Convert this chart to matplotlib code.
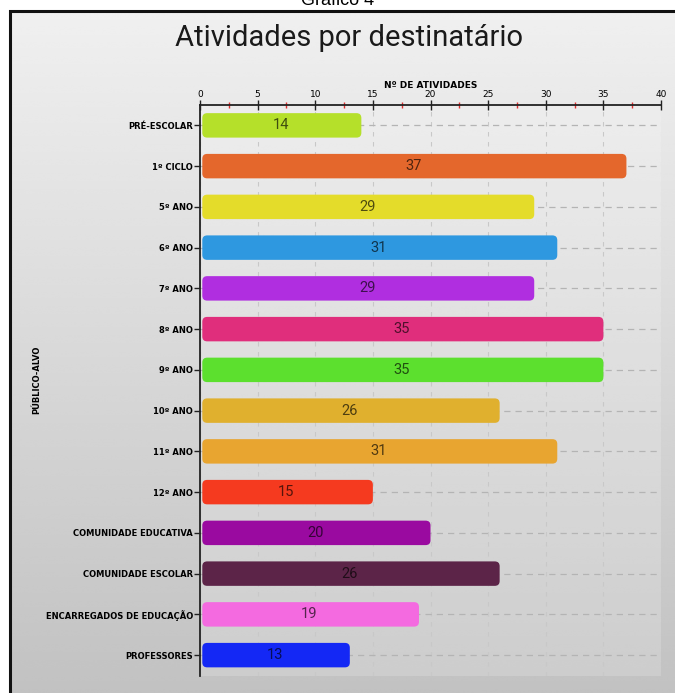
import numpy as np
import matplotlib
matplotlib.use("Agg")
import matplotlib.pyplot as plt
from matplotlib.patches import FancyBboxPatch, Rectangle
from matplotlib.colors import to_rgb

# Activities per target audience
categories = [
    "PRÉ-ESCOLAR", "1º CICLO", "5º ANO", "6º ANO", "7º ANO", "8º ANO",
    "9º ANO", "10º ANO", "11º ANO", "12º ANO", "COMUNIDADE EDUCATIVA",
    "COMUNIDADE ESCOLAR", "ENCARREGADOS DE EDUCAÇÃO", "PROFESSORES",
]
values = [14, 37, 29, 31, 29, 35, 35, 26, 31, 15, 20, 26, 19, 13]
colors = [
    "#b5e02a", "#e4672c", "#e4dc2a", "#2e98e0", "#b02ee0", "#e02e7c",
    "#5ce02e", "#e0b02e", "#e8a530", "#f53a1f", "#9a0aa0",
    "#5c2448", "#f46ae0", "#1428f5",
]
x_ticks = [0, 5, 10, 15, 20, 25, 30, 35, 40]

W, H = 675, 693
fig = plt.figure(figsize=(W / 100, H / 100), dpi=100)
fig.patch.set_facecolor("white")

# gradient panel behind the chart
bg = fig.add_axes([10 / W, 0, 1 - 10 / W, 1 - 12 / H], zorder=-2)
grad = np.linspace(0.94, 0.76, 256).reshape(-1, 1)
grad = np.repeat(grad, 2, axis=1)
bg.imshow(grad, aspect="auto", cmap="gray", vmin=0, vmax=1,
          extent=[0, 1, 0, 1], interpolation="bicubic")
bg.set_xlim(0, 1)
bg.set_ylim(0, 1)
bg.axis("off")
fig.patches.append(Rectangle((10 / W, -0.05), 1.2, 1.05 - 11 / H,
                             transform=fig.transFigure, fill=False,
                             edgecolor="#111111", linewidth=2.2, zorder=5))

fig.text(0.5, 1 - 5 / H, "Gráfico 4", ha="center", va="baseline",
         fontsize=13, family=["Liberation Sans", "DejaVu Sans"], color="black")
fig.text(0.517, 1 - 38 / H, "Atividades por destinatário", ha="center",
         va="center", fontsize=21,
         family=["Roboto", "DejaVu Sans"], color="#1a1a1a")

left, right = 200 / W, 661 / W
top, bottom = 1 - 105 / H, 1 - 675.5 / H
ax = fig.add_axes([left, bottom, right - left, top - bottom])
ax.set_facecolor((1, 1, 1, 0.18))

y = np.arange(len(categories))
bars = ax.barh(y, values, height=0.6, color=colors)

ax.set_xlim(0, 40)
ax.set_ylim(len(categories) - 0.5, -0.5)

# rounded bar shapes
px_x = (right - left) * W / 40
px_y = (top - bottom) * H / len(categories)
aspect = px_x / px_y
for b, c, v in zip(bars, colors, values):
    b.set_visible(False)
    x0, y0 = b.get_x(), b.get_y()
    w, h = b.get_width(), b.get_height()
    r = 0.42
    p = FancyBboxPatch((x0 + 0.2 + r, y0 + r * aspect),
                       w - 0.2 - 2 * r, h - 2 * r * aspect,
                       boxstyle=f"round,pad={r},rounding_size={r}",
                       mutation_aspect=aspect,
                       facecolor=c, edgecolor="none", zorder=3)
    ax.add_patch(p)
    dark = tuple(np.array(to_rgb(c)) * 0.35)
    ax.text(v / 2, b.get_y() + h / 2, str(v), ha="center", va="center",
            fontsize=10.5, color=dark, zorder=4,
            family=["Roboto", "DejaVu Sans"])

ax.xaxis.tick_top()
ax.xaxis.set_label_position("top")
ax.set_xticks(x_ticks)
ax.set_xticklabels([str(t) for t in x_ticks], fontsize=6.5,
                   family="DejaVu Sans")
ax.set_xticks(np.arange(2.5, 40, 5), minor=True)
ax.tick_params(axis="x", which="major", direction="inout", length=7,
               width=1, color="#222222", pad=1)
ax.tick_params(axis="x", which="minor", direction="inout", length=4,
               width=1, color="#e03030")
ax.set_xlabel("Nº DE ATIVIDADES", fontsize=6.5, fontweight="bold",
              labelpad=1)

ax.set_yticks(y)
ax.set_yticklabels(categories, fontsize=6, fontweight="bold")
ax.tick_params(axis="y", direction="out", length=4, width=1,
               color="#222222", pad=1)
ax.set_ylabel("PÚBLICO-ALVO", fontsize=6, fontweight="bold")
ax.yaxis.set_label_coords(-0.345, 0.518)

for s in ["right", "bottom"]:
    ax.spines[s].set_visible(False)
for s in ["left", "top"]:
    ax.spines[s].set_color("#222222")
    ax.spines[s].set_linewidth(1.3)

ax.set_axisbelow(True)
ax.grid(True, axis="y", linestyle=(0, (5, 4)), color="#b4b4b4",
        linewidth=0.9)
ax.grid(True, axis="x", linestyle=(0, (4, 5)), color="#c8c8c8",
        linewidth=0.8)

fig.savefig("out.png", dpi=100)
